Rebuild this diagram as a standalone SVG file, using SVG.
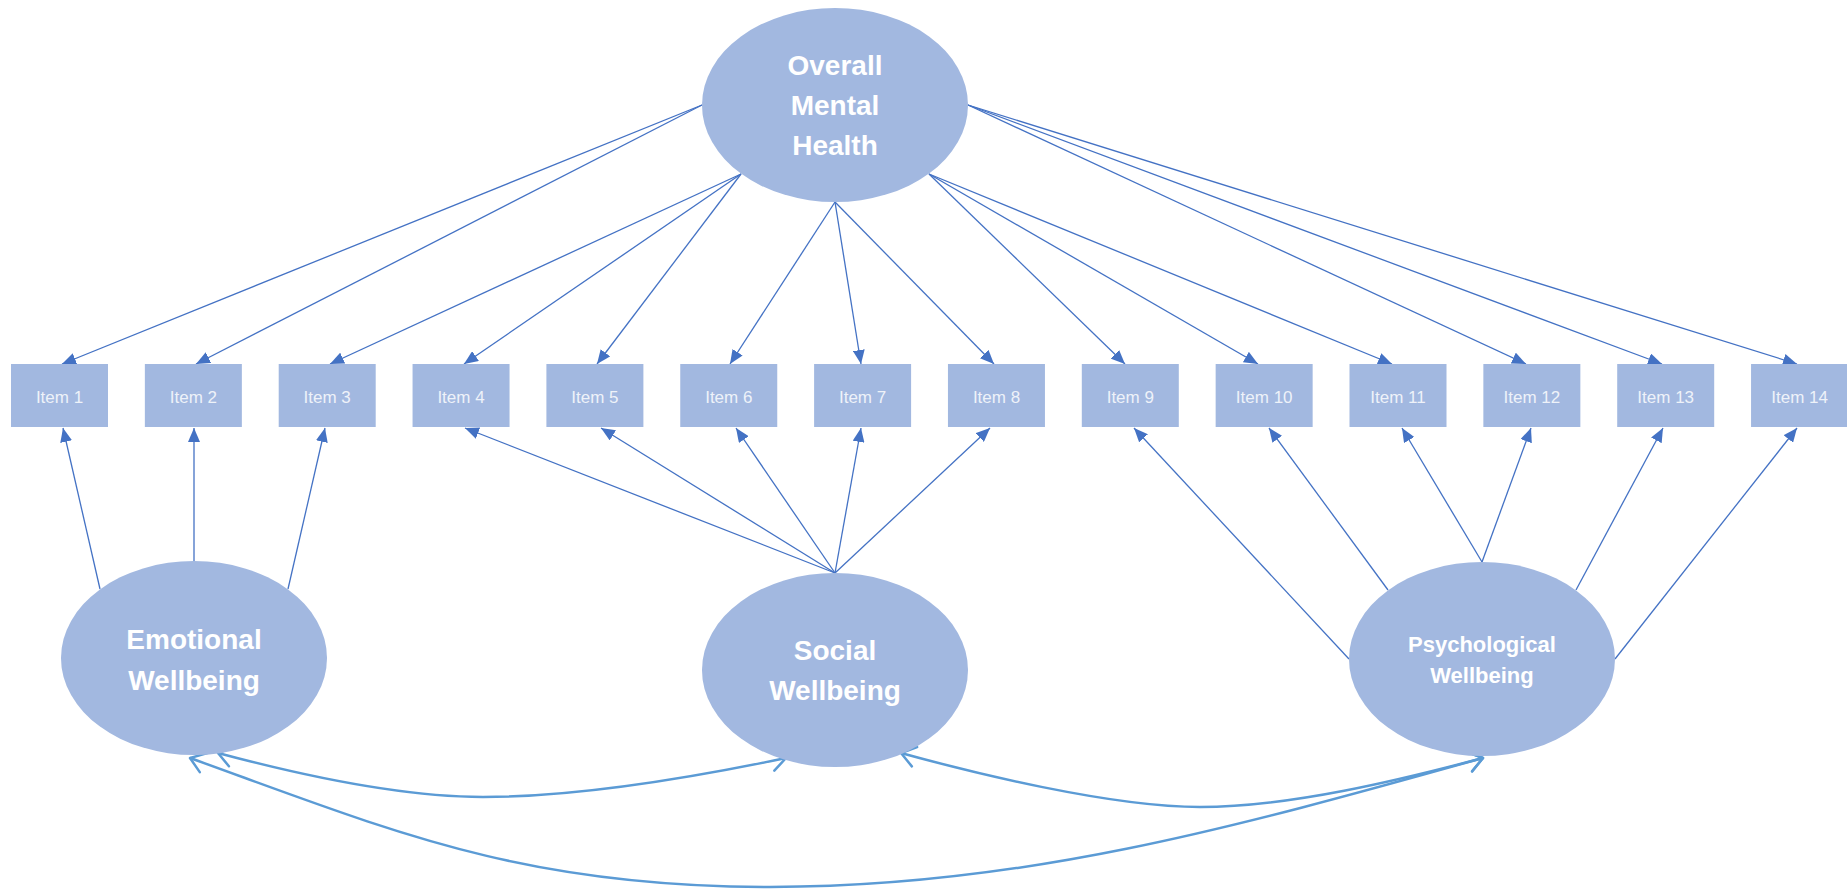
<svg xmlns="http://www.w3.org/2000/svg" width="1847" height="889" viewBox="0 0 1847 889">
<style>
.lat{fill:#A2B8E0;}
.box{fill:#A2B8E0;}
.lt{font-family:"Liberation Sans",Arial,sans-serif;font-weight:bold;fill:#FFFFFF;text-anchor:middle;}
.it{font-family:"Liberation Sans",Arial,sans-serif;font-size:17px;fill:#EEF2F9;text-anchor:middle;}
.arr{stroke:#4472C4;stroke-width:1.3;fill:none;marker-end:url(#tri);}
.cov{stroke:#5B9BD5;stroke-width:2.5;fill:none;marker-start:url(#vee);marker-end:url(#vee);}
</style>
<defs>
<marker id="tri" markerUnits="userSpaceOnUse" markerWidth="14" markerHeight="12" refX="14" refY="6" orient="auto">
<path d="M0,0 L14,6 L0,12 Z" fill="#4472C4"/>
</marker>
<marker id="vee" markerUnits="userSpaceOnUse" markerWidth="24" markerHeight="24" refX="17" refY="12" orient="auto-start-reverse">
<path d="M3,2 L17,12 L3,22" fill="none" stroke="#5B9BD5" stroke-width="2.5" stroke-linecap="round" stroke-linejoin="round"/>
</marker>
</defs>
<rect width="1847" height="889" fill="#FFFFFF"/>

<g id="connectors">
<line class="arr" x1="702" y1="105" x2="62" y2="364"/>
<line class="arr" x1="702" y1="105" x2="196" y2="364"/>
<line class="arr" x1="741" y1="174" x2="330" y2="364"/>
<line class="arr" x1="741" y1="174" x2="464" y2="364"/>
<line class="arr" x1="741" y1="174" x2="597" y2="364"/>
<line class="arr" x1="835" y1="202" x2="730" y2="364"/>
<line class="arr" x1="835" y1="202" x2="861" y2="364"/>
<line class="arr" x1="835" y1="202" x2="994" y2="364"/>
<line class="arr" x1="929" y1="174" x2="1125" y2="364"/>
<line class="arr" x1="929" y1="174" x2="1258" y2="364"/>
<line class="arr" x1="929" y1="174" x2="1392" y2="364"/>
<line class="arr" x1="968" y1="105" x2="1526" y2="364"/>
<line class="arr" x1="968" y1="105" x2="1662" y2="364"/>
<line class="arr" x1="968" y1="105" x2="1797" y2="364"/>
<line class="arr" x1="100" y1="589" x2="63" y2="428"/>
<line class="arr" x1="194" y1="561" x2="194" y2="428"/>
<line class="arr" x1="288" y1="589" x2="325" y2="428"/>
<line class="arr" x1="835" y1="573" x2="465" y2="428"/>
<line class="arr" x1="835" y1="573" x2="601" y2="428"/>
<line class="arr" x1="835" y1="573" x2="736" y2="428"/>
<line class="arr" x1="835" y1="573" x2="861" y2="428"/>
<line class="arr" x1="835" y1="573" x2="990" y2="428"/>
<line class="arr" x1="1349" y1="659" x2="1134" y2="428"/>
<line class="arr" x1="1388" y1="590" x2="1269" y2="428"/>
<line class="arr" x1="1482" y1="562" x2="1402" y2="428"/>
<line class="arr" x1="1482" y1="562" x2="1531" y2="428"/>
<line class="arr" x1="1576" y1="590" x2="1663" y2="428"/>
<line class="arr" x1="1615" y1="659" x2="1797" y2="428"/>
<path class="cov" d="M218,753 C300,775 400,797 483,797 C580,797 700,776 786,758"/>
<path class="cov" d="M901,753 C970,772 1110,807 1200,807 C1290,807 1400,780 1483,758"/>
<path class="cov" d="M190,758 C390,830 520,887 770,887 C1020,887 1233,828 1483,758"/>
</g>

<g id="overall">
<ellipse class="lat" cx="835" cy="105" rx="133" ry="97"/>
<text class="lt" font-size="28" x="835" y="75">Overall</text>
<text class="lt" font-size="28" x="835" y="115">Mental</text>
<text class="lt" font-size="28" x="835" y="155">Health</text>
</g>

<g id="emotional">
<ellipse class="lat" cx="194" cy="658" rx="133" ry="97"/>
<text class="lt" font-size="28" x="194" y="649">Emotional</text>
<text class="lt" font-size="28" x="194" y="690">Wellbeing</text>
</g>

<g id="social">
<ellipse class="lat" cx="835" cy="670" rx="133" ry="97"/>
<text class="lt" font-size="28" x="835" y="660">Social</text>
<text class="lt" font-size="28" x="835" y="700">Wellbeing</text>
</g>

<g id="psychological">
<ellipse class="lat" cx="1482" cy="659" rx="133" ry="97"/>
<text class="lt" font-size="22" x="1482" y="652">Psychological</text>
<text class="lt" font-size="22" x="1482" y="683">Wellbeing</text>
</g>

<g id="item1"><rect class="box" x="11" y="364" width="97" height="63"/><text class="it" x="59.5" y="403">Item 1</text></g>
<g id="item2"><rect class="box" x="144.85" y="364" width="97" height="63"/><text class="it" x="193.4" y="403">Item 2</text></g>
<g id="item3"><rect class="box" x="278.7" y="364" width="97" height="63"/><text class="it" x="327.2" y="403">Item 3</text></g>
<g id="item4"><rect class="box" x="412.55" y="364" width="97" height="63"/><text class="it" x="461" y="403">Item 4</text></g>
<g id="item5"><rect class="box" x="546.4" y="364" width="97" height="63"/><text class="it" x="594.9" y="403">Item 5</text></g>
<g id="item6"><rect class="box" x="680.25" y="364" width="97" height="63"/><text class="it" x="728.8" y="403">Item 6</text></g>
<g id="item7"><rect class="box" x="814.1" y="364" width="97" height="63"/><text class="it" x="862.6" y="403">Item 7</text></g>
<g id="item8"><rect class="box" x="947.95" y="364" width="97" height="63"/><text class="it" x="996.5" y="403">Item 8</text></g>
<g id="item9"><rect class="box" x="1081.8" y="364" width="97" height="63"/><text class="it" x="1130.3" y="403">Item 9</text></g>
<g id="item10"><rect class="box" x="1215.65" y="364" width="97" height="63"/><text class="it" x="1264.2" y="403">Item 10</text></g>
<g id="item11"><rect class="box" x="1349.5" y="364" width="97" height="63"/><text class="it" x="1398" y="403">Item 11</text></g>
<g id="item12"><rect class="box" x="1483.35" y="364" width="97" height="63"/><text class="it" x="1531.9" y="403">Item 12</text></g>
<g id="item13"><rect class="box" x="1617.2" y="364" width="97" height="63"/><text class="it" x="1665.7" y="403">Item 13</text></g>
<g id="item14"><rect class="box" x="1751.05" y="364" width="97" height="63"/><text class="it" x="1799.6" y="403">Item 14</text></g>
</svg>
